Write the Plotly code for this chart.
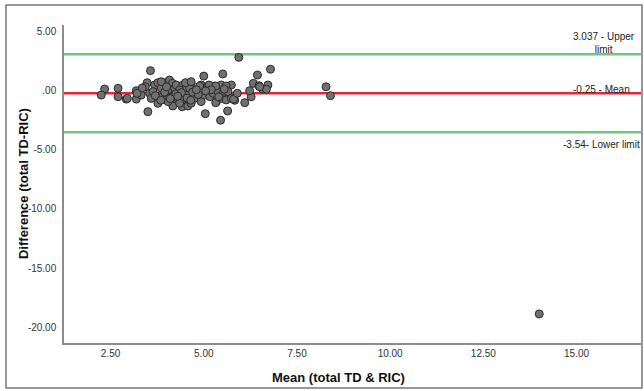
import plotly.graph_objects as go

# Bland-Altman data: mean of methods (x) and difference (y)
mean_vals = [
    5.94, 6.79, 6.44, 5.51, 5.00, 3.57, 2.34, 2.70, 2.25, 2.70,
    2.92, 3.19, 3.19, 3.32, 3.50, 5.04, 5.45, 5.64, 6.10, 6.27,
    6.23, 6.33, 6.48, 6.58, 6.72, 6.68, 5.83, 5.74, 8.28, 8.40,
    14.00, 3.48, 2.95, 3.21, 3.43, 3.55, 3.59, 3.68, 3.77, 3.77,
    3.86, 3.90, 3.99, 4.04, 3.99, 4.13, 4.13, 4.08, 4.17, 3.64,
    4.16, 4.22, 4.26, 4.17, 4.31, 4.44, 4.49, 4.44, 4.57, 4.66,
    4.62, 4.57, 4.75, 4.42, 4.93, 4.93, 5.02, 5.11, 5.16, 5.29,
    5.34, 5.25, 4.35, 5.34, 5.47, 5.60, 5.38, 5.51, 5.65, 5.47,
    5.60, 5.74, 4.17, 4.57, 4.66, 4.35, 4.04, 5.32, 5.80, 3.86,
    4.51, 4.66, 4.89, 5.14, 5.32, 3.95, 4.25, 4.40, 4.70, 4.85,
    4.10, 4.55, 4.80, 5.40, 3.70, 4.00, 4.65, 5.20, 5.55, 3.85,
    4.30, 5.90, 6.50, 3.35, 5.05,
]
diff_vals = [
    2.78, 1.78, 1.29, 1.38, 1.20, 1.66, 0.11, 0.17, -0.40, -0.54,
    -0.74, -0.03, -0.74, -0.40, -1.80, -1.97, -2.52, -1.74, -1.04, -0.54,
    -0.03, 0.59, 0.39, 0.09, 0.45, 0.09, -0.84, 0.45, 0.30, -0.45,
    -18.86, 0.64, -0.68, -0.25, 0.30, -0.25, -0.68, 0.45, 0.64, -1.09,
    0.18, -0.54, 0.64, 0.03, -0.81, 0.45, -0.54, 0.87, -1.09, -0.11,
    0.59, 0.18, 0.45, -0.54, -0.68, 0.45, 0.03, -0.81, -0.40, 0.59,
    0.18, -1.09, -0.68, -1.38, 0.45, -0.95, -0.40, 0.30, -0.54, 0.36,
    -0.95, -0.25, 0.03, 0.30, 0.45, 0.36, -0.11, -0.25, -0.11, -0.68,
    -0.81, -0.68, -1.32, -1.32, -1.09, -1.09, -0.95, -1.04, -0.74, 0.73,
    0.64, 0.73, 0.36, 0.45, 0.36, -0.15, -0.30, -0.20, -0.15, -0.35,
    -0.70, -0.65, 0.05, -0.55, -0.45, 0.29, -0.84, 0.05, 0.10, -0.84,
    -0.50, -0.25, 0.30, 0.20, -0.05,
]

upper_limit = 3.037
mean_diff = -0.25
lower_limit = -3.54

y_tick_vals = [5, 0, -5, -10, -15, -20]
y_tick_text = ["5.00", ".00", "-5.00", "-10.00", "-15.00", "-20.00"]
x_tick_vals = [2.5, 5, 7.5, 10, 12.5, 15]
x_tick_text = ["2.50", "5.00", "7.50", "10.00", "12.50", "15.00"]

x_range = [1.25, 16.73]
y_range = [-21.31, 5.51]

green = "#6cc77f"
red = "#e0263c"
font_family = "Liberation Sans, Arial, sans-serif"

fig = go.Figure()

for yv, col in [(upper_limit, green), (mean_diff, red), (lower_limit, green)]:
    fig.add_trace(go.Scatter(
        x=x_range, y=[yv, yv], mode="lines",
        line=dict(color=col, width=2.5), hoverinfo="skip", showlegend=False,
    ))

fig.add_trace(go.Scatter(
    x=mean_vals, y=diff_vals, mode="markers",
    marker=dict(size=8, color="#707070", line=dict(color="#2a2a2a", width=1)),
    showlegend=False,
))

fig.update_layout(
    width=644, height=391,
    margin=dict(l=64, r=3, t=25, b=48),
    paper_bgcolor="white", plot_bgcolor="white",
    font=dict(family=font_family, color="#333333"),
    showlegend=False,
)
fig.update_xaxes(
    range=x_range, tickvals=x_tick_vals, ticktext=x_tick_text,
    showgrid=False, zeroline=False, showline=True, linecolor="#8c8c8c",
    linewidth=1.5, ticks="", tickfont=dict(size=10, color="#333333"),
)
fig.update_yaxes(
    range=y_range, tickvals=y_tick_vals, ticktext=y_tick_text,
    showgrid=False, zeroline=False, showline=True, linecolor="#8c8c8c",
    linewidth=1.5, ticks="", tickfont=dict(size=10, color="#333333"),
    ticklabelstandoff=4,
)

# reference line labels
label_font = dict(size=10, color="#222222")
fig.add_annotation(x=15.75, y=4.02, xref="x", yref="y", text="3.037 - Upper<br>limit",
                   showarrow=False, yanchor="middle", xanchor="center", font=label_font)
fig.add_annotation(x=15.68, y=0.08, xref="x", yref="y", text="-0.25 - Mean",
                   showarrow=False, yanchor="middle", xanchor="center", font=label_font)
fig.add_annotation(x=15.68, y=-4.53, xref="x", yref="y", text="-3.54- Lower limit",
                   showarrow=False, yanchor="middle", xanchor="center", font=label_font)

# axis titles
fig.add_annotation(x=-0.071, y=0.5, xref="paper", yref="paper", text="<b>Difference (total TD-RIC)</b>",
                   textangle=-90, showarrow=False, xanchor="center", yanchor="middle",
                   font=dict(size=13, color="#111111"))
fig.add_annotation(x=0.475, y=-0.110, xref="paper", yref="paper", text="<b>Mean (total TD &amp; RIC)</b>",
                   showarrow=False, xanchor="center", yanchor="middle",
                   font=dict(size=13, color="#111111"))

# outer chart border
fig.add_shape(type="rect", xref="paper", yref="paper",
              x0=-0.1005, x1=1.0017, y0=-0.1415, y1=1.0629,
              line=dict(color="#777777", width=1.5), layer="below")

fig.write_html("out.html", config={"displayModeBar": False},
               post_script="document.body.style.margin='0px';document.body.style.padding='0px';")
